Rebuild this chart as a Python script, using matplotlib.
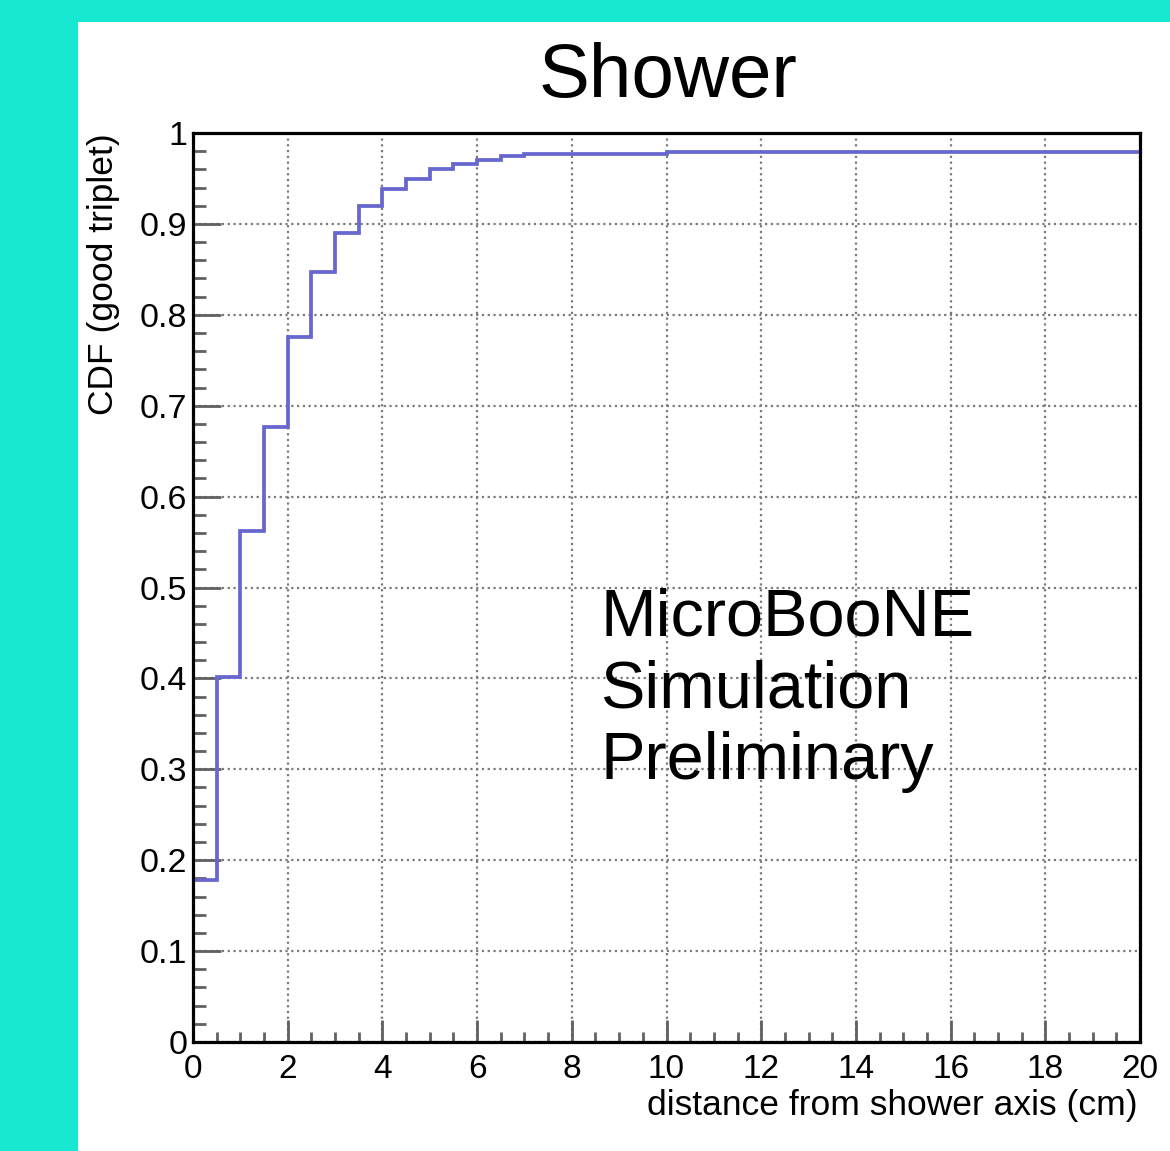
import numpy as np
import matplotlib.pyplot as plt
from matplotlib.patches import Rectangle
from matplotlib.ticker import MultipleLocator, FuncFormatter

plt.rcParams["font.family"] = ["Liberation Sans", "DejaVu Sans"]

# ---------------------------------------------------------------------------
# Data: cumulative fraction of good triplets vs distance from shower axis
# ---------------------------------------------------------------------------
bin_edges = np.arange(0.0, 20.5, 0.5)
cdf_good = [
    0.178, 0.402, 0.562, 0.677, 0.776, 0.847, 0.890, 0.920,
    0.938, 0.949, 0.960, 0.966, 0.970, 0.975,
    0.977, 0.977, 0.977, 0.977, 0.977, 0.977,
    0.979, 0.979, 0.979, 0.979, 0.979, 0.979, 0.979, 0.979, 0.979, 0.979,
    0.979, 0.979, 0.979, 0.979, 0.979, 0.979, 0.979, 0.979, 0.979, 0.979,
]
x_ticks = np.arange(0, 21, 2)
y_ticks = np.round(np.arange(0, 1.01, 0.1), 1)

TEAL = "#18e7d1"
W, H = 1170, 1151

fig = plt.figure(figsize=(W / 100, H / 100), dpi=100)
fig.patch.set_facecolor(TEAL)
fig.patches.append(Rectangle((78 / W, 0), 1 - 78 / W, (H - 22) / H,
                             transform=fig.transFigure, facecolor="white",
                             edgecolor="none", zorder=-5))

ax = fig.add_axes([193 / W, 109 / H, 947 / W, 909 / H])
ax.set_zorder(2)
ax.set_facecolor("white")

ax.stairs(cdf_good, bin_edges, baseline=None, color="#6767cf",
          linewidth=2.7, zorder=3)

ax.set_xlim(0, 20)
ax.set_ylim(0, 1)
ax.set_xticks(x_ticks)
ax.set_yticks(y_ticks)
ax.xaxis.set_minor_locator(MultipleLocator(0.5))
ax.yaxis.set_minor_locator(MultipleLocator(0.02))
ax.yaxis.set_major_formatter(FuncFormatter(lambda v, _: f"{v:g}"))

ax.grid(True, which="major", color="#7a7a7a", linestyle=(0, (1, 1.6)),
        linewidth=1.6, zorder=1)

ax.tick_params(axis="both", which="both", direction="in", colors="#606060",
               width=2, top=False, right=False, labelcolor="black")
ax.tick_params(axis="y", which="major", length=20, pad=4, labelsize=24.5)
ax.tick_params(axis="y", which="minor", length=9.5)
ax.tick_params(axis="x", which="major", length=16, pad=9, labelsize=24)
ax.tick_params(axis="x", which="minor", length=7.5)

for sp in ax.spines.values():
    sp.set_linewidth(2.3)
    sp.set_color("black")
    sp.set_zorder(4)

# Titles and annotations
fig.text(668 / W, (H - 97) / H, "Shower", ha="center", va="baseline",
         fontsize=55, zorder=5)
fig.text(103 / W, (H - 133) / H, "CDF (good triplet)", rotation=90,
         ha="center", va="top", fontsize=25.5, zorder=5)
fig.text(1138 / W, (H - 1115) / H, "distance from shower axis (cm)",
         ha="right", va="baseline", fontsize=25.5, zorder=5)
fig.text(600 / W, (H - 588) / H, "MicroBooNE\nSimulation\nPreliminary",
         ha="left", va="top", fontsize=48, linespacing=1.2, zorder=5)

fig.savefig("out.png", dpi=100, facecolor=fig.get_facecolor())
